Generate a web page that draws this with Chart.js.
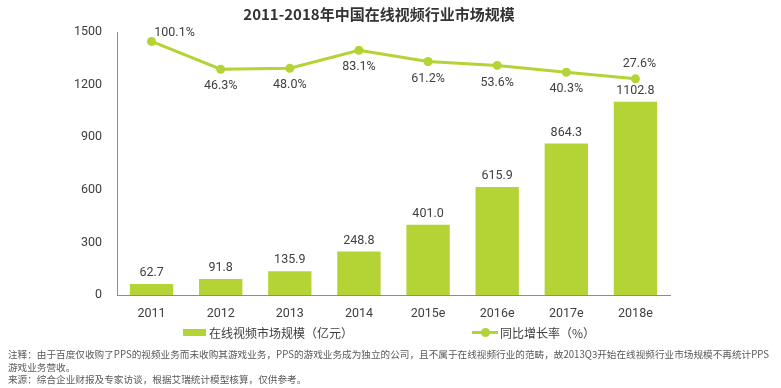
<!DOCTYPE html>
<html>
<head>
<meta charset="utf-8">
<script src="https://cdn.jsdelivr.net/npm/chart.js@4/dist/chart.umd.min.js"></script>
<style>
  body { margin: 0; background: #fff; }
  #wrap { position: relative; width: 781px; height: 388px; overflow: hidden; font-family: "Noto Sans CJK SC", sans-serif; }
  #chart { position: absolute; left: 0; top: 0; }
  .title { position: absolute; left: 0; width: 758px; top: 3px; text-align: center; font-size: 15px; font-weight: bold; color: #333; }
  .legend { position: absolute; top: 322px; font-size: 12px; color: #404040; line-height: 18px; }
  .legend span { display: inline-block; vertical-align: middle; }
  .box { width: 23px; height: 7px; background: #b4d334; margin-right: 3px; }
  .lineKey { position: relative; width: 26px; height: 10px; margin-right: 2px; }
  .lineKey:before { content: ""; position: absolute; left: 0; right: 0; top: 3.5px; height: 3px; background: #b4d334; }
  .lineKey:after { content: ""; position: absolute; left: 9px; top: 0.5px; width: 9px; height: 9px; border-radius: 50%; background: #b4d334; }
  .notes { position: absolute; left: 8px; top: 348px; font-size: 9.65px; line-height: 12.5px; color: #595959; white-space: nowrap; }
</style>
</head>
<body>
<div id="wrap">
  <canvas id="chart" width="781" height="388"></canvas>
  <div class="title">2011-2018年中国在线视频行业市场规模</div>
  <div class="legend" style="left:183px"><span class="box"></span><span>在线视频市场规模（亿元）</span></div>
  <div class="legend" style="left:472px"><span class="lineKey"></span><span>同比增长率（%）</span></div>
  <div class="notes">注释：由于百度仅收购了PPS的视频业务而未收购其游戏业务，PPS的游戏业务成为独立的公司，且不属于在线视频行业的范畴，故2013Q3开始在线视频行业市场规模不再统计PPS<br>游戏业务营收。<br>来源：综合企业财报及专家访谈，根据艾瑞统计模型核算，仅供参考。</div>
</div>
<script>
// data
const years = ["2011", "2012", "2013", "2014", "2015e", "2016e", "2017e", "2018e"];
const marketSize = [62.7, 91.8, 135.9, 248.8, 401.0, 615.9, 864.3, 1102.8];
const growthRate = [100.1, 46.3, 48.0, 83.1, 61.2, 53.6, 40.3, 27.6];
const sizeTicks = [0, 300, 600, 900, 1200, 1500];
// where each growth label sits relative to its point
const rateLabelSide = ["topRight", "bottom", "bottom", "bottom", "bottom", "bottom", "bottom", "top"];

const green = "#b4d334";
const textColor = "#404040";
const numFont = { family: "Roboto", size: 12.5 };

const valueLabels = {
  id: "valueLabels",
  afterDatasetsDraw(chart) {
    const ctx = chart.ctx;
    ctx.save();
    ctx.font = numFont.size + "px " + numFont.family;
    ctx.fillStyle = textColor;
    ctx.textAlign = "center";
    ctx.textBaseline = "middle";
    chart.getDatasetMeta(1).data.forEach((bar, i) => {
      ctx.fillText(marketSize[i].toFixed(1), bar.x, bar.y - 11);
    });
    chart.getDatasetMeta(0).data.forEach((pt, i) => {
      const side = rateLabelSide[i];
      let dx = 0, dy = 17;
      if (side === "topRight") { dx = 23; dy = -9; }
      if (side === "top") { dx = 4; dy = -15; }
      ctx.fillText(growthRate[i].toFixed(1) + "%", pt.x + dx, pt.y + dy);
    });
    ctx.restore();
  }
};

new Chart(document.getElementById("chart").getContext("2d"), {
  type: "bar",
  data: {
    labels: years,
    datasets: [{
      type: "line",
      label: "同比增长率（%）",
      data: growthRate,
      yAxisID: "y2",
      borderColor: green,
      backgroundColor: green,
      borderWidth: 3,
      pointRadius: 4.5,
      pointBackgroundColor: green,
      pointBorderWidth: 0,
      tension: 0,
      order: 0
    }, {
      label: "在线视频市场规模（亿元）",
      data: marketSize,
      yAxisID: "y",
      backgroundColor: green,
      barPercentage: 0.627,
      categoryPercentage: 1,
      order: 1
    }]
  },
  options: {
    responsive: false,
    animation: false,
    layout: { padding: { left: 0, right: 111, top: 32, bottom: 63 } },
    plugins: { legend: { display: false }, tooltip: { enabled: false } },
    scales: {
      x: {
        grid: { display: false, drawTicks: false },
        border: { color: "#8c8c8c" },
        ticks: { color: textColor, font: numFont, padding: 11 },
        afterFit(scale) { scale.height = 30; }
      },
      y: {
        min: 0,
        max: 1500,
        afterBuildTicks(scale) { scale.ticks = sizeTicks.map(v => ({ value: v })); },
        grid: { display: false, drawTicks: false },
        border: { color: "#8c8c8c" },
        ticks: { color: textColor, font: numFont, padding: 15, callback: v => String(v) },
        afterFit(scale) { scale.width = 117; }
      },
      y2: {
        display: false,
        min: -392,
        max: 118.5
      }
    }
  },
  plugins: [valueLabels]
});
</script>
</body>
</html>
